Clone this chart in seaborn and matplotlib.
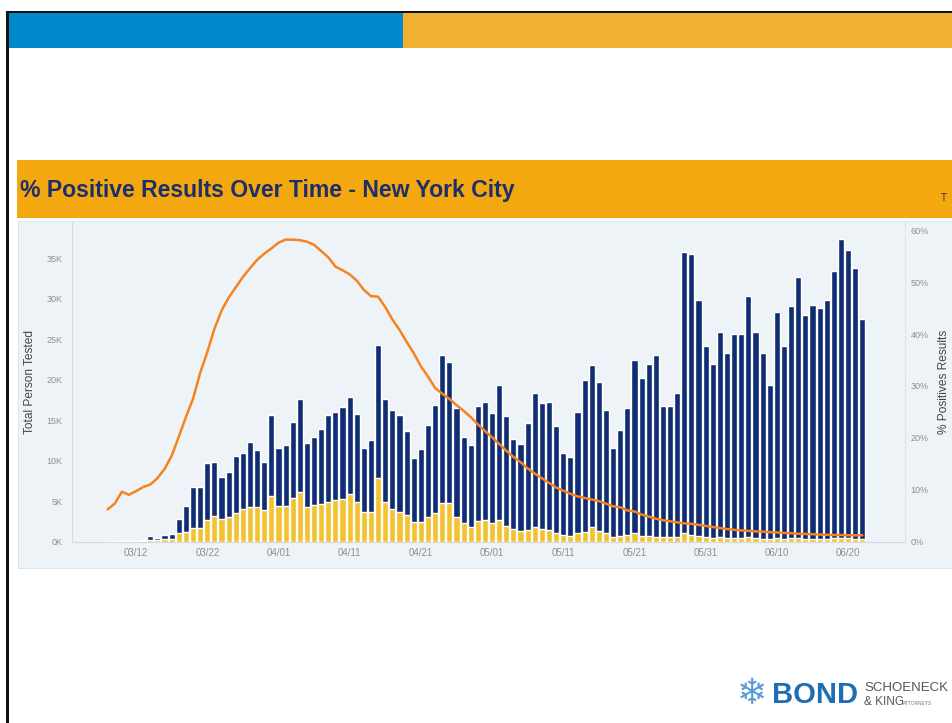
import numpy as np
import pandas as pd
import matplotlib
matplotlib.use("Agg")
import matplotlib.pyplot as plt
import seaborn as sns
from matplotlib.patches import Rectangle

# one value per day, 03/08 .. 06/22 (107 days)
dates = pd.date_range("2020-03-08", "2020-06-22", freq="D")

# total persons tested, thousands
total_k = [
    0.02, 0.03, 0.05, 0.08, 0.12, 0.19, 0.72, 0.47, 0.80, 0.89,
    2.78, 4.39, 6.70, 6.77, 9.74, 9.86, 8.00, 8.63, 10.57, 10.90,
    12.34, 11.30, 9.86, 15.70,
    11.60, 11.90, 14.80, 17.60, 12.20, 12.90, 13.90, 15.60, 16.00, 16.60,
    17.90, 15.80, 11.60, 12.50, 24.30, 17.60, 16.30, 15.60, 13.60, 10.30,
    11.40, 14.40, 16.90, 23.05, 22.15, 16.50, 12.90, 11.90, 16.70, 17.20,
    15.85, 19.40, 15.50, 12.70, 12.05, 14.60, 18.40, 17.10, 17.30, 14.30,
    10.90, 10.40, 16.05, 20.00, 21.80, 19.75, 16.30, 11.60, 13.80, 16.50,
    22.50, 20.20, 21.90, 23.10, 16.70, 16.70, 18.40, 35.80, 35.50, 29.80,
    24.20,
    21.90, 25.90, 23.30, 25.60, 25.70, 30.40, 25.90, 23.30, 19.40, 28.40,
    24.20, 29.10, 32.70, 28.00, 29.20, 28.90, 29.85, 33.40, 37.40, 36.00,
    33.85, 27.50,
]

# positive results, thousands
positive_k = [
    0.00, 0.00, 0.01, 0.02, 0.03, 0.05, 0.20, 0.15, 0.25, 0.30,
    1.00, 1.13, 1.70, 1.63, 2.66, 3.20, 2.74, 3.07, 3.48, 3.98,
    4.23, 4.30, 3.90, 5.60,
    4.40, 4.40, 5.40, 6.08, 4.23, 4.50, 4.60, 4.90, 5.10, 5.30,
    5.90, 4.90, 3.60, 3.60, 7.90, 4.85, 4.00, 3.70, 3.30, 2.45,
    2.45, 3.07, 3.50, 4.70, 4.70, 3.07, 2.30, 1.83, 2.50, 2.60,
    2.30, 2.66, 1.90, 1.50, 1.30, 1.40, 1.80, 1.50, 1.40, 1.00,
    0.80, 0.70, 1.10, 1.20, 1.75, 1.30, 1.00, 0.60, 0.70, 0.80,
    1.10, 0.70, 0.70, 0.60, 0.50, 0.50, 0.60, 1.00, 0.80, 0.70,
    0.50,
    0.40, 0.50, 0.40, 0.45, 0.45, 0.50, 0.40, 0.35, 0.30, 0.40,
    0.35, 0.40, 0.45, 0.35, 0.35, 0.35, 0.35, 0.40, 0.45, 0.40,
    0.35, 0.30,
]

# % positive (line, right axis)
pct_positive = [
    6.2, 7.3, 9.6, 9.0, 9.7, 10.5, 11.0, 12.2, 14.0, 16.5,
    20.2, 24.0, 27.5, 32.5, 36.5, 41.0, 44.5, 47.0, 49.0, 51.0,
    52.7, 54.3, 55.5, 56.5,
    57.6, 58.2, 58.2, 58.1, 57.8, 57.2, 56.0, 54.8, 53.0, 52.3,
    51.5, 50.3, 48.5, 47.3, 47.2, 45.2, 42.8, 40.8, 38.5, 36.3,
    33.8, 31.8, 29.6, 28.5, 27.5, 26.3, 25.2, 24.0, 22.6, 21.3,
    20.1, 18.8, 17.5, 16.3, 15.3, 14.1, 13.1, 12.2, 11.3, 10.4,
    9.8, 9.2, 8.7, 8.4, 8.1, 7.8, 7.3, 6.8, 6.6, 6.0,
    5.8, 5.2, 4.8, 4.4, 4.1, 3.9, 3.7, 3.5, 3.4, 3.2,
    3.0,
    2.8, 2.6, 2.4, 2.25, 2.15, 2.05, 1.95, 1.9, 1.8, 1.75,
    1.65, 1.6, 1.5, 1.45, 1.4, 1.35, 1.3, 1.25, 1.25, 1.2,
    1.2, 1.2,
]

x_tick_labels = ["03/12", "03/22", "04/01", "04/11", "04/21", "05/01",
                 "05/11", "05/21", "05/31", "06/10", "06/20"]
left_ticks = [0, 5, 10, 15, 20, 25, 30, 35]
right_ticks = [0, 10, 20, 30, 40, 50, 60]

df = pd.DataFrame({
    "day": np.arange(len(dates)),
    "label": dates.strftime("%m/%d"),
    "total": total_k,
    "positive": positive_k,
    "pct": pct_positive,
})

sns.set_theme(style="white")
plt.rcParams["font.family"] = ["Liberation Sans", "DejaVu Sans"]

W, H = 952, 723
fig = plt.figure(figsize=(W / 100, H / 100), dpi=100)
fig.patch.set_facecolor("white")


def box(x0, y0, x1, y1, color):
    # rectangle in pixel coords of the slide (y from top), behind the axes
    fig.patches.append(Rectangle((x0 / W, 1 - y1 / H), (x1 - x0) / W, (y1 - y0) / H,
                                 transform=fig.transFigure, facecolor=color,
                                 edgecolor="none", zorder=-1))


# slide frame and top banner
box(6, 11, 952, 13.5, "#111111")
box(6, 11, 8.5, 723, "#111111")
box(8.5, 13.5, 403, 47.5, "#0089CB")
box(403, 13.5, 952, 47.5, "#F0B132")

# chart header and plot background
box(17, 159.5, 952, 217.5, "#F3A80F")
box(18, 220.5, 952, 569, "#DCE3EA")
box(19, 221.5, 952, 568, "#EEF3F7")

fig.text(20 / W, 1 - 197 / H, "% Positive Results Over Time - New York City",
         fontsize=16.6, fontweight="bold", color="#1C2F6A", ha="left", va="baseline")
fig.text(941 / W, 1 - 201 / H, "T", fontsize=7, color="#333333",
         ha="left", va="baseline")

# main axes
ax = fig.add_axes([72 / W, 1 - 541.5 / H, (905 - 72) / W, (541.5 - 222) / H])
ax.patch.set_alpha(0)

sns.barplot(data=df, x="day", y="total", native_scale=True, color="#0E2D72",
            saturation=1, width=0.86, errorbar=None, ax=ax, zorder=2)
sns.barplot(data=df, x="day", y="positive", native_scale=True, color="#F2C230",
            saturation=1, width=0.86, errorbar=None, ax=ax, zorder=3)

ax.set_xlim(-5, 112)
ax.set_ylim(0, 39.5)
ax.set_yticks(left_ticks)
ax.set_yticklabels([f"{t}K" for t in left_ticks])
tick_pos = df.loc[df["label"].isin(x_tick_labels), "day"].tolist()
ax.set_xticks(tick_pos)
ax.set_xticklabels(x_tick_labels)
ax.set_xlabel("")
ax.set_ylabel("Total Person Tested", fontsize=8.6, color="#444444")
ax.yaxis.set_label_coords(-0.043, 0.5)
ax.tick_params(axis="y", labelsize=6.5, labelcolor="#8A9099", length=0, pad=7)
ax.tick_params(axis="x", labelsize=7, labelcolor="#8A9099", length=0, pad=5)

ax2 = ax.twinx()
sns.lineplot(data=df, x="day", y="pct", color="#F5841F", linewidth=1.8, ax=ax2, zorder=4)
ax2.set_ylim(0, 61.6)
ax2.set_yticks(right_ticks)
ax2.set_yticklabels([f"{t}%" for t in right_ticks])
ax2.set_ylabel("% Positives Results", fontsize=8.6, color="#444444", rotation=90)
ax2.yaxis.set_label_coords(1.04, 0.5)
ax2.tick_params(axis="y", labelsize=6.5, labelcolor="#8A9099", length=0, pad=4)

ax.spines["top"].set_visible(False)
ax.spines["right"].set_visible(False)
ax.spines["left"].set_color("#D3DAE2")
ax.spines["bottom"].set_color("#D3DAE2")
ax2.spines["top"].set_visible(False)
ax2.spines["left"].set_visible(False)
ax2.spines["bottom"].set_visible(False)
ax2.spines["right"].set_color("#DDE3EA")
for a in (ax, ax2):
    for s in a.spines.values():
        s.set_linewidth(0.8)

# firm logo, bottom right
fig.text(752 / W, 1 - 694 / H, "\u2744", fontsize=26, color="#5B9BD5",
         family="DejaVu Sans", ha="center", va="center")
fig.text(772 / W, 1 - 703 / H, "BOND", fontsize=21, fontweight="bold",
         color="#1F6DB3", ha="left", va="baseline")
fig.text(864 / W, 1 - 691 / H, "SCHOENECK", fontsize=9.5, color="#555555",
         ha="left", va="baseline")
fig.text(864 / W, 1 - 705 / H, "& KING", fontsize=8.5, color="#555555",
         ha="left", va="baseline")
fig.text(903 / W, 1 - 705 / H, "ATTORNEYS", fontsize=3.5, color="#777777",
         ha="left", va="baseline")

fig.savefig("out.png", dpi=100)
